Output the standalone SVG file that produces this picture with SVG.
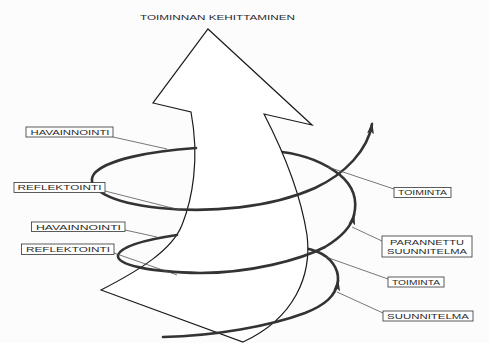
<svg xmlns="http://www.w3.org/2000/svg" width="489" height="343" viewBox="0 0 489 343">
  <defs>
    <style>
      .bg { fill: #fcfcfc; }
      .shaft { fill: #ffffff; stroke: #1a1a1a; stroke-width: 1.2; stroke-linejoin: miter; }
      .spiral { fill: none; stroke: #333333; stroke-width: 2.6; stroke-linecap: round; }
      .leader { fill: none; stroke: #555555; stroke-width: 0.8; }
      .box { fill: #ffffff; stroke: #333333; stroke-width: 0.8; }
      .lbl { font-family: "Liberation Sans", Arial, sans-serif; font-size: 7px; fill: #2a2a2a; }
      .title { font-family: "Liberation Sans", Arial, sans-serif; font-size: 7.2px; fill: #2a2a2a; }
    </style>
    <marker id="ah" markerUnits="userSpaceOnUse" markerWidth="12" markerHeight="8" refX="10" refY="4" orient="auto">
      <path d="M0,0.6 L12,4 L0,7.4 L2.5,4 Z" fill="#333333"/>
    </marker>
  </defs>

  <rect class="bg" x="0" y="0" width="489" height="343"/>

  <g id="title">
    <text class="title" x="140" y="20" textLength="155" lengthAdjust="spacingAndGlyphs">TOIMINNAN KEHITTAMINEN</text>
  </g>

  <g id="spiral-back">
    <path class="spiral" d="M354,215 C358,198 352,185 340,175 C325,163 305,155 282,152"/>
    <path class="spiral" d="M338,281 C339,268 330,257 318,252 C313,250 310,249 304,248"/>
  </g>

  <g id="arrow">
    <path class="shaft" d="M208,29 L312,125 L264,114 C280,145 300,190 307,235 C312,275 295,318 243,342 L101,290 C140,270 172,250 182,225 C192,200 200,160 191,112 L153,103 Z"/>
  </g>

  <g id="spiral-front">
    <path class="spiral" marker-end="url(#ah)" d="M196,148 C150,151 105,160 94,174 C84,188 110,203 160,208 C210,213 270,208 315,188 C345,174 368,150 372,124"/>
    <path class="spiral" marker-end="url(#ah)" d="M177,235 C150,239 122,245 118,255 C116,265 150,272 200,273 C250,273 300,260 325,247 C340,238 351,228 354,215"/>
    <path class="spiral" marker-end="url(#ah)" d="M163,337 C215,336 270,326 305,313 C325,305 336,296 338,281"/>
  </g>

  <g id="connectors">
    <line class="leader" x1="113" y1="137" x2="167" y2="149"/>
    <line class="leader" x1="105" y1="191" x2="180" y2="210"/>
    <line class="leader" x1="125" y1="230" x2="157" y2="237"/>
    <line class="leader" x1="114" y1="253" x2="177" y2="275"/>
    <line class="leader" x1="394" y1="189" x2="328" y2="167"/>
    <line class="leader" x1="382" y1="241" x2="352" y2="227"/>
    <line class="leader" x1="388" y1="279" x2="326" y2="257"/>
    <line class="leader" x1="383" y1="313" x2="337" y2="292"/>
  </g>

  <g id="havainnointi-1">
    <rect class="box" x="26" y="127" width="87" height="10"/>
    <text class="lbl" x="30.5" y="134.5" textLength="79" lengthAdjust="spacingAndGlyphs">HAVAINNOINTI</text>
  </g>
  <g id="reflektointi-1">
    <rect class="box" x="14" y="182.5" width="91" height="10"/>
    <text class="lbl" x="17.5" y="190" textLength="84" lengthAdjust="spacingAndGlyphs">REFLEKTOINTI</text>
  </g>
  <g id="havainnointi-2">
    <rect class="box" x="31.5" y="222" width="93.5" height="9.5"/>
    <text class="lbl" x="36" y="229.5" textLength="85" lengthAdjust="spacingAndGlyphs">HAVAINNOINTI</text>
  </g>
  <g id="reflektointi-2">
    <rect class="box" x="21.5" y="244" width="92.5" height="10.5"/>
    <text class="lbl" x="26" y="252" textLength="84" lengthAdjust="spacingAndGlyphs">REFLEKTOINTI</text>
  </g>
  <g id="toiminta-1">
    <rect class="box" x="394" y="187.5" width="57" height="10"/>
    <text class="lbl" x="398" y="195" textLength="49" lengthAdjust="spacingAndGlyphs">TOIMINTA</text>
  </g>
  <g id="parannettu-suunnitelma">
    <rect class="box" x="382" y="236" width="90" height="21"/>
    <text class="lbl" x="427" y="244.5" text-anchor="middle" textLength="74" lengthAdjust="spacingAndGlyphs">PARANNETTU</text>
    <text class="lbl" x="427" y="253.5" text-anchor="middle" textLength="80" lengthAdjust="spacingAndGlyphs">SUUNNITELMA</text>
  </g>
  <g id="toiminta-2">
    <rect class="box" x="388" y="277" width="56" height="10"/>
    <text class="lbl" x="392" y="284.5" textLength="48" lengthAdjust="spacingAndGlyphs">TOIMINTA</text>
  </g>
  <g id="suunnitelma">
    <rect class="box" x="383" y="311" width="90" height="10"/>
    <text class="lbl" x="387" y="318.5" textLength="82" lengthAdjust="spacingAndGlyphs">SUUNNITELMA</text>
  </g>
</svg>
